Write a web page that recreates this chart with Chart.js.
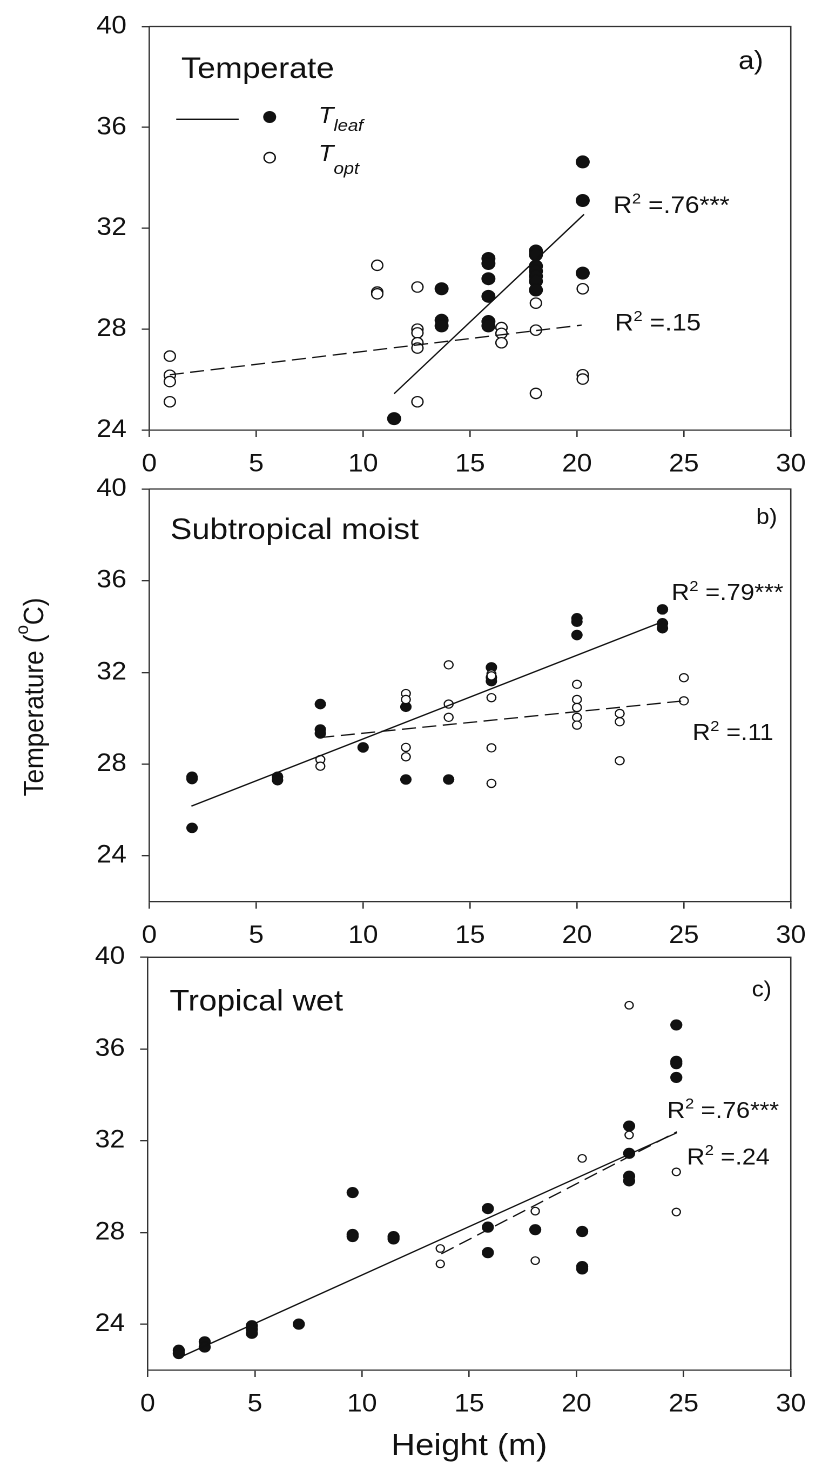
<!DOCTYPE html>
<html>
<head>
<meta charset="utf-8">
<script src="https://cdn.jsdelivr.net/npm/chart.js@4.4.1/dist/chart.umd.min.js"></script>
<style>
    html, body { margin: 0; padding: 0; background: #fff; }
    #wrap { position: relative; width: 822px; height: 1464px; overflow: hidden; }
    #wrap canvas { position: absolute; left: 0; top: 0; }
</style>
</head>
<body>
<div id="wrap">
    <canvas id="panelA" width="761" height="1464" style="width:822px;height:1464px"></canvas>
    <canvas id="panelB" width="761" height="1464" style="width:822px;height:1464px"></canvas>
    <canvas id="panelC" width="761" height="1464" style="width:822px;height:1464px"></canvas>
</div>
<script>
// Axis ticks
const xTicks = [0, 5, 10, 15, 20, 25, 30];
const yTicks = [24, 28, 32, 36, 40];

// a) Temperate
const temperateLeafX = [11.45, 13.67, 13.67, 13.67, 15.86, 15.86, 15.86, 15.86, 15.86, 15.86, 18.08, 18.08, 18.08, 18.08, 18.08, 18.08, 18.08, 20.27, 20.27, 20.27];
const temperateLeafY = [24.45, 29.6, 28.35, 28.13, 30.8, 30.6, 30.0, 29.3, 28.3, 28.13, 31.1, 30.95, 30.5, 30.3, 30.1, 29.9, 29.55, 34.63, 33.1, 30.22];
const temperateOptX = [0.96, 0.96, 0.96, 0.96, 10.66, 10.66, 10.66, 12.54, 12.54, 12.54, 12.54, 12.54, 12.54, 16.47, 16.47, 16.47, 18.08, 18.08, 18.08, 20.27, 20.27, 20.27];
const temperateOptY = [26.93, 26.17, 25.92, 25.12, 30.53, 29.47, 29.4, 29.67, 28.0, 27.85, 27.46, 27.25, 25.12, 28.06, 27.83, 27.46, 29.03, 27.96, 25.45, 29.6, 26.19, 26.02];
const temperateLeafFitX = [11.45, 20.33];
const temperateLeafFitY = [25.44, 32.55];
const temperateOptFitX = [0.96, 20.22];
const temperateOptFitY = [26.19, 28.16];

// b) Subtropical moist
const subtropLeafX = [2, 2, 2, 6, 6, 8, 8, 8, 10, 12, 12, 14, 16, 16, 16, 20, 20, 20, 24, 24, 24];
const subtropLeafY = [27.45, 27.35, 25.22, 27.45, 27.3, 30.62, 29.51, 29.34, 28.73, 30.5, 27.33, 27.33, 32.22, 31.78, 31.62, 34.36, 34.21, 33.63, 34.75, 34.14, 33.93];
const subtropOptX = [8, 8, 12, 12, 12, 12, 14, 14, 14, 16, 16, 16, 16, 16, 20, 20, 20, 20, 20, 22, 22, 22, 25, 25];
const subtropOptY = [28.2, 27.91, 31.08, 30.82, 28.73, 28.32, 32.33, 30.62, 30.04, 31.93, 31.85, 30.9, 28.71, 27.16, 31.48, 30.82, 30.47, 30.04, 29.7, 30.21, 29.85, 28.15, 31.77, 30.76];
const subtropLeafFitX = [1.97, 24.0];
const subtropLeafFitY = [26.17, 34.21];
const subtropOptFitX = [8.0, 25.0];
const subtropOptFitY = [29.16, 30.76];

// c) Tropical wet
const tropLeafX = [1.45, 1.45, 2.66, 2.66, 4.86, 4.86, 4.86, 7.05, 9.56, 9.56, 9.56, 11.47, 11.47, 15.87, 15.87, 15.87, 18.08, 20.27, 20.27, 20.27, 22.46, 22.46, 22.46, 22.46, 24.66, 24.66, 24.66, 24.66];
const tropLeafY = [22.86, 22.72, 23.23, 23.0, 23.93, 23.78, 23.6, 24.0, 29.74, 27.91, 27.82, 27.82, 27.72, 29.04, 28.23, 27.12, 28.12, 28.04, 26.51, 26.41, 32.64, 31.45, 30.45, 30.25, 37.05, 35.46, 35.36, 34.76];
const tropOptX = [13.65, 13.65, 18.08, 18.08, 20.27, 22.46, 22.46, 24.66, 24.66];
const tropOptY = [27.3, 26.63, 28.93, 26.77, 31.23, 37.91, 32.25, 30.64, 28.89];
const tropLeafFitX = [1.64, 24.69];
const tropLeafFitY = [22.61, 32.35];
const tropOptFitX = [13.7, 24.69];
const tropOptFitY = [27.07, 32.39];

const FONT = '"Liberation Sans", Arial, Helvetica, sans-serif';
const INK = '#111';
const AXIS = '#333';
const CANVAS_H = 1464;
const X_AXIS_H = 60;

function pts(xs, ys) {
    return xs.map((x, i) => ({ x: x, y: ys[i] }));
}

function fontStr(size, italic) {
    return (italic ? 'italic ' : '') + size + 'px ' + FONT;
}

// Text run with super/subscripts (dy in px)
function runWidth(ctx, parts) {
    let w = 0;
    parts.forEach(p => {
        ctx.font = fontStr(p.size, p.italic);
        w += ctx.measureText(p.text).width;
    });
    return w;
}

function drawRun(ctx, x, y, parts) {
    let cx = x;
    parts.forEach(p => {
        ctx.font = fontStr(p.size, p.italic);
        ctx.fillText(p.text, cx, y + (p.dy || 0));
        cx += ctx.measureText(p.text).width;
    });
}

function rSquared(value, size) {
    return [
        { text: 'R', size: size },
        { text: '2', size: Math.round(size * 0.64), dy: -size * 0.4 },
        { text: ' =' + value, size: size }
    ];
}

// Legend of panel a
function drawLegend(chart, ctx) {
    const sx = chart.scales.x, sy = chart.scales.y;
    ctx.strokeStyle = INK;
    ctx.lineWidth = 1.3;
    ctx.beginPath();
    ctx.moveTo(sx.getPixelForValue(1.26), sy.getPixelForValue(36.32));
    ctx.lineTo(sx.getPixelForValue(4.18), sy.getPixelForValue(36.32));
    ctx.stroke();

    ctx.fillStyle = INK;
    ctx.beginPath();
    ctx.arc(sx.getPixelForValue(5.63), sy.getPixelForValue(36.41), 6, 0, Math.PI * 2);
    ctx.fill();

    ctx.fillStyle = '#fff';
    ctx.beginPath();
    ctx.arc(sx.getPixelForValue(5.63), sy.getPixelForValue(34.8), 5.2, 0, Math.PI * 2);
    ctx.fill();
    ctx.stroke();

    ctx.fillStyle = INK;
    drawRun(ctx, sx.getPixelForValue(7.91), sy.getPixelForValue(36.17), [
        { text: 'T', size: 23, italic: true },
        { text: 'leaf', size: 17, italic: true, dy: 8 }
    ]);
    drawRun(ctx, sx.getPixelForValue(7.91), sy.getPixelForValue(34.66), [
        { text: 'T', size: 23, italic: true },
        { text: 'opt', size: 17, italic: true, dy: 13 }
    ]);
}

// Shared y title, drawn on the middle panel
function drawYTitle(chart, ctx) {
    const parts = [
        { text: 'Temperature (', size: 26 },
        { text: 'o', size: 17, dy: -14 },
        { text: 'C)', size: 26 }
    ];
    const w = runWidth(ctx, parts);
    ctx.save();
    ctx.translate(40, 697);
    ctx.rotate(-Math.PI / 2);
    drawRun(ctx, -w / 2, 0, parts);
    ctx.restore();
}

function drawXTitle(chart, ctx) {
    const area = chart.chartArea;
    ctx.font = fontStr(31);
    ctx.textAlign = 'center';
    ctx.fillText('Height (m)', (area.left + area.right) / 2, 1455);
    ctx.textAlign = 'left';
}

const panels = [
    {
        id: 'panelA', yMin: 24, box: { left: 138.2, right: 17.3, top: 17.3, bottom: 430 },
        rLeaf: 6, rOpt: 5.2,
        leaf: pts(temperateLeafX, temperateLeafY), opt: pts(temperateOptX, temperateOptY),
        leafFit: pts(temperateLeafFitX, temperateLeafFitY), optFit: pts(temperateOptFitX, temperateOptFitY),
        labels: [
            { x: 1.49, y: 37.96, parts: [{ text: 'Temperate', size: 30 }] },
            { x: 27.55, y: 38.31, parts: [{ text: 'a)', size: 26 }] },
            { x: 21.7, y: 32.6, parts: rSquared('.76***', 24) },
            { x: 21.77, y: 27.95, parts: rSquared('.15', 24) }
        ],
        extra: [drawLegend]
    },
    {
        id: 'panelB', yMin: 22, box: { left: 138.2, right: 17.3, top: 489, bottom: 901.7 },
        rLeaf: 4.8, rOpt: 4.1,
        leaf: pts(subtropLeafX, subtropLeafY), opt: pts(subtropOptX, subtropOptY),
        leafFit: pts(subtropLeafFitX, subtropLeafFitY), optFit: pts(subtropOptFitX, subtropOptFitY),
        labels: [
            { x: 0.98, y: 37.81, parts: [{ text: 'Subtropical moist', size: 30 }] },
            { x: 28.38, y: 38.47, parts: [{ text: 'b)', size: 22 }] },
            { x: 24.42, y: 35.16, parts: rSquared('.79***', 23) },
            { x: 25.4, y: 29.05, parts: rSquared('.11', 23) }
        ],
        extra: [drawYTitle]
    },
    {
        id: 'panelC', yMin: 22, box: { left: 136.7, right: 18.8, top: 957.3, bottom: 1370 },
        rLeaf: 5.1, rOpt: 3.8,
        leaf: pts(tropLeafX, tropLeafY), opt: pts(tropOptX, tropOptY),
        leafFit: pts(tropLeafFitX, tropLeafFitY), optFit: pts(tropOptFitX, tropOptFitY),
        labels: [
            { x: 1.02, y: 37.67, parts: [{ text: 'Tropical wet', size: 30 }] },
            { x: 28.18, y: 38.28, parts: [{ text: 'c)', size: 22 }] },
            { x: 24.23, y: 33.0, parts: rSquared('.76***', 23) },
            { x: 25.15, y: 30.97, parts: rSquared('.24', 23) }
        ],
        extra: [drawXTitle]
    }
];

function buildPanel(panel) {
    const box = panel.box;

    // Frame, labels and extras
    const panelText = {
        id: 'panelText',
        afterDatasetsDraw(chart) {
            const ctx = chart.ctx;
            const area = chart.chartArea;
            const sx = chart.scales.x, sy = chart.scales.y;
            ctx.save();
            ctx.strokeStyle = AXIS;
            ctx.lineWidth = 1.3;
            ctx.beginPath();
            ctx.moveTo(area.left, area.top);
            ctx.lineTo(area.right, area.top);
            ctx.lineTo(area.right, area.bottom);
            ctx.stroke();

            ctx.fillStyle = INK;
            ctx.textAlign = 'left';
            ctx.textBaseline = 'alphabetic';
            panel.labels.forEach(l => {
                drawRun(ctx, sx.getPixelForValue(l.x), sy.getPixelForValue(l.y), l.parts);
            });
            panel.extra.forEach(fn => fn(chart, ctx));
            ctx.restore();
        }
    };

    const tickFont = { family: FONT, size: 25, lineHeight: 1 };

    return new Chart(document.getElementById(panel.id), {
        type: 'scatter',
        data: {
            datasets: [
                { data: panel.leafFit, showLine: true, borderColor: INK, borderWidth: 1.3, pointRadius: 0, order: 0 },
                { data: panel.optFit, showLine: true, borderColor: INK, borderWidth: 1.3, borderDash: [13, 6], pointRadius: 0, order: 0 },
                { data: panel.opt, pointRadius: panel.rOpt, pointBackgroundColor: '#fff', pointBorderColor: INK, pointBorderWidth: 1.2, order: 1 },
                { data: panel.leaf, pointRadius: panel.rLeaf, pointBackgroundColor: INK, pointBorderColor: INK, pointBorderWidth: 1, order: 2 }
            ]
        },
        options: {
            responsive: false,
            devicePixelRatio: 2,
            animation: false,
            events: [],
            layout: {
                padding: { left: 0, right: box.right, top: box.top, bottom: CANVAS_H - box.bottom - X_AXIS_H }
            },
            plugins: {
                legend: { display: false },
                tooltip: { enabled: false }
            },
            scales: {
                x: {
                    type: 'linear',
                    min: 0,
                    max: 30,
                    afterBuildTicks: s => { s.ticks = xTicks.map(v => ({ value: v })); },
                    afterFit: s => { s.height = X_AXIS_H; },
                    ticks: { font: tickFont, color: INK, padding: 15, maxRotation: 0, autoSkip: false },
                    grid: { drawOnChartArea: false, drawTicks: true, tickLength: 7, color: AXIS, lineWidth: 1.3 },
                    border: { display: true, color: AXIS, width: 1.3 }
                },
                y: {
                    type: 'linear',
                    min: panel.yMin,
                    max: 40,
                    afterBuildTicks: s => { s.ticks = yTicks.map(v => ({ value: v })); },
                    afterFit: s => { s.width = box.left; },
                    ticks: { font: tickFont, color: INK, padding: 14 },
                    grid: { drawOnChartArea: false, drawTicks: true, tickLength: 7, color: AXIS, lineWidth: 1.3 },
                    border: { display: true, color: AXIS, width: 1.3 }
                }
            }
        },
        plugins: [panelText]
    });
}

document.addEventListener('DOMContentLoaded', () => {
    window.panelCharts = panels.map(buildPanel);
});
</script>
</body>
</html>
